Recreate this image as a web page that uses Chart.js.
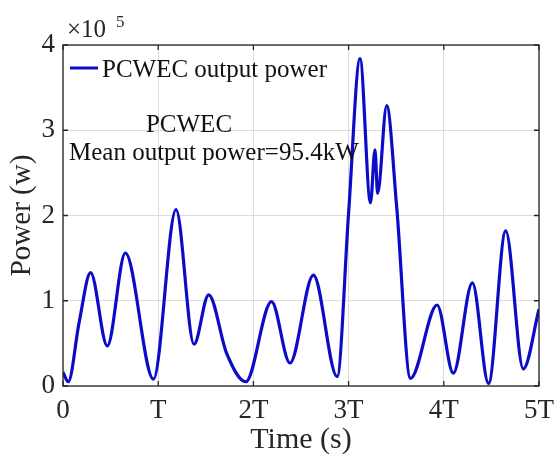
<!DOCTYPE html>
<html><head><meta charset="utf-8">
<script src="https://cdn.jsdelivr.net/npm/chart.js@4.4.0/dist/chart.umd.min.js"></script>
<style>html,body{margin:0;padding:0;background:#fff}#wrap{width:555px;height:462px}</style>
</head><body><div id="wrap"><canvas id="c" width="555" height="462"></canvas></div>
<script>
// Time in units of wave period T, power in units of 1e5 W
const timeT = [0, 0.055, 0.17, 0.29, 0.465, 0.655, 0.95, 1.187, 1.376, 1.53, 1.72, 1.92, 2.19, 2.384, 2.63, 2.88, 3.0, 3.12, 3.23, 3.277, 3.305, 3.40, 3.505, 3.65, 3.93, 4.10, 4.30, 4.47, 4.65, 4.835, 5.0];
const powerE5 = [0.16, 0.05, 0.75, 1.33, 0.47, 1.56, 0.08, 2.07, 0.49, 1.07, 0.38, 0.05, 0.99, 0.27, 1.30, 0.11, 2.03, 3.84, 2.15, 2.77, 2.26, 3.29, 2.10, 0.09, 0.95, 0.15, 1.21, 0.03, 1.82, 0.20, 0.90];
const xTickLabels = ['0', 'T', '2T', '3T', '4T', '5T'];
const yTickLabels = ['0', '1', '2', '3', '4'];
const seriesName = 'PCWEC output power';
const noteTitle = 'PCWEC';
const noteMean = 'Mean output power=95.4kW';
const xTitle = 'Time (s)';
const yTitle = 'Power (w)';

const FONT = '"Liberation Serif", "Times New Roman", serif';
const LINE = '#0c0cc8';
const INK = '#262626';

const framePlugin = {
  id: 'frame',
  afterDraw(chart) {
    const {ctx, chartArea: a, scales: {x, y}} = chart;
    ctx.save();
    ctx.strokeStyle = INK; ctx.lineWidth = 1.3;
    ctx.strokeRect(a.left, a.top, a.right - a.left, a.bottom - a.top);
    const L = 5;
    ctx.beginPath();
    x.ticks.forEach(t => { const p = x.getPixelForValue(t.value);
      ctx.moveTo(p, a.bottom); ctx.lineTo(p, a.bottom - L);
      ctx.moveTo(p, a.top); ctx.lineTo(p, a.top + L); });
    y.ticks.forEach(t => { const p = y.getPixelForValue(t.value);
      ctx.moveTo(a.left, p); ctx.lineTo(a.left + L, p);
      ctx.moveTo(a.right, p); ctx.lineTo(a.right - L, p); });
    ctx.stroke();
    // legend
    ctx.strokeStyle = LINE; ctx.lineWidth = 3;
    ctx.beginPath(); ctx.moveTo(a.left + 7, a.top + 23); ctx.lineTo(a.left + 35, a.top + 23); ctx.stroke();
    ctx.fillStyle = '#111';
    ctx.font = '25px ' + FONT; ctx.textBaseline = 'alphabetic'; ctx.textAlign = 'left';
    ctx.fillText(seriesName, a.left + 39, a.top + 32);
    // notes
    ctx.textAlign = 'center'; ctx.fillText(noteTitle, 189, 132);
    ctx.textAlign = 'left'; ctx.fillText(noteMean, 69, 160);
    // exponent
    ctx.fillStyle = INK;
    ctx.font = '25px ' + FONT; ctx.fillText('\u00d710', 67, 37);
    ctx.font = '17px ' + FONT; ctx.fillText('5', 116, 27);
    ctx.restore();
  }
};

new Chart(document.getElementById('c'), {
  type: 'line',
  data: {
    labels: timeT,
    datasets: [{
      label: seriesName,
      data: timeT.map((t, i) => ({x: t, y: powerE5[i]})),
      borderColor: LINE, borderWidth: 3.2, pointRadius: 0,
      cubicInterpolationMode: 'monotone', fill: false
    }]
  },
  options: {
    responsive: false, devicePixelRatio: 1, animation: false,
    layout: {padding: {top: 45, right: 16, left: 0, bottom: 0}},
    plugins: {legend: {display: false}, tooltip: {enabled: false}},
    scales: {
      x: {
        type: 'linear', min: 0, max: 5,
        afterFit: s => { s.height = 76; s.paddingRight = 0; s.paddingLeft = 0; },
        border: {display: false},
        grid: {color: '#dcdcdc', lineWidth: 1, drawTicks: false},
        ticks: {stepSize: 1, padding: 9, color: INK, font: {family: FONT, size: 27},
          callback: v => xTickLabels[v] ?? '', maxRotation: 0},
        title: {display: true, text: xTitle, color: INK, font: {family: FONT, size: 30}, padding: {top: 0, bottom: 4}}
      },
      y: {
        min: 0, max: 4,
        afterFit: s => { s.width = 63; s.paddingTop = 0; s.paddingBottom = 0; },
        border: {display: false},
        grid: {color: '#dcdcdc', lineWidth: 1, drawTicks: false},
        ticks: {stepSize: 1, padding: 8, color: INK, font: {family: FONT, size: 27},
          callback: v => yTickLabels[v] ?? ''},
        title: {display: true, text: yTitle, color: INK, font: {family: FONT, size: 29}, padding: {top: 5, bottom: 0}}
      }
    }
  },
  plugins: [framePlugin]
});
</script></body></html>
